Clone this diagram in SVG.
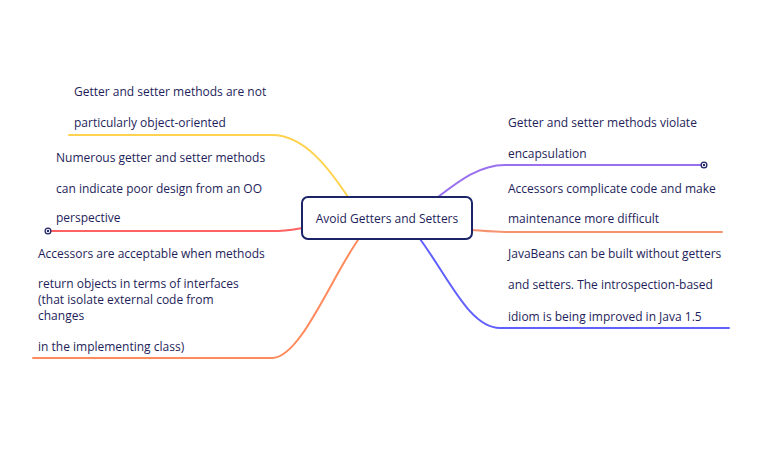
<svg xmlns="http://www.w3.org/2000/svg" width="775" height="452" viewBox="0 0 775 452">
<style>
.t{font-family:"Open Sans","Noto Sans","DejaVu Sans",sans-serif;font-size:12px;fill:#1e1e5a}
.e{fill:none;stroke-width:2;stroke-linecap:round}
</style>
<defs>
<marker id="dot" viewBox="0 0 10 10" refX="5" refY="5" markerWidth="8" markerHeight="8" markerUnits="userSpaceOnUse">
<circle cx="5" cy="5" r="3.6" fill="#fff" stroke="#24246a" stroke-width="1.6"/>
<circle cx="5" cy="5" r="1.5" fill="#24246a"/>
</marker>
</defs>
<rect width="775" height="452" fill="#fff"/>
<g id="connectors">
<path class="e" stroke="#ffd24f" d="M348,197 C330,170 305,135 272,135 L69,135"/>
<path class="e" stroke="#ff6262" d="M302,228 C290,230 285,231 272,231 L48,231" marker-end="url(#dot)"/>
<path class="e" stroke="#ff8a5c" d="M358,240 C330,280 300,358 272,358 L33,358"/>
<path class="e" stroke="#9a70ee" d="M438,197 C460,180 480,165 505,165 L704,165" marker-end="url(#dot)"/>
<path class="e" stroke="#f59270" d="M472,230 C485,231 495,232 505,232 L722,232"/>
<path class="e" stroke="#6060ff" d="M420,239 C450,280 470,328 500,328 L729,328"/>
</g>
<g id="center">
<rect x="302" y="197" width="170" height="42" rx="6" fill="#fff" stroke="#1a2466" stroke-width="2"/>
<text class="t" x="387" y="223" text-anchor="middle">Avoid Getters and Setters</text>
</g>
<g id="n1">
<text class="t" x="74" y="96">Getter and setter methods are not</text>
<text class="t" x="74" y="127">particularly object-oriented</text>
</g>
<g id="n2">
<text class="t" x="56" y="162">Numerous getter and setter methods</text>
<text class="t" x="56" y="193">can indicate poor design from an OO</text>
<text class="t" x="56" y="222">perspective</text>
</g>
<g id="n3">
<text class="t" x="38" y="258">Accessors are acceptable when methods</text>
<text class="t" x="38" y="288">return objects in terms of interfaces</text>
<text class="t" x="38" y="304">(that isolate external code from</text>
<text class="t" x="38" y="320">changes</text>
<text class="t" x="38" y="351">in the implementing class)</text>
</g>
<g id="n4">
<text class="t" x="508" y="127">Getter and setter methods violate</text>
<text class="t" x="508" y="158">encapsulation</text>
</g>
<g id="n5">
<text class="t" x="508" y="193">Accessors complicate code and make</text>
<text class="t" x="508" y="223">maintenance more difficult</text>
</g>
<g id="n6">
<text class="t" x="508" y="258">JavaBeans can be built without getters</text>
<text class="t" x="508" y="289">and setters. The introspection-based</text>
<text class="t" x="508" y="321">idiom is being improved in Java 1.5</text>
</g>
</svg>
